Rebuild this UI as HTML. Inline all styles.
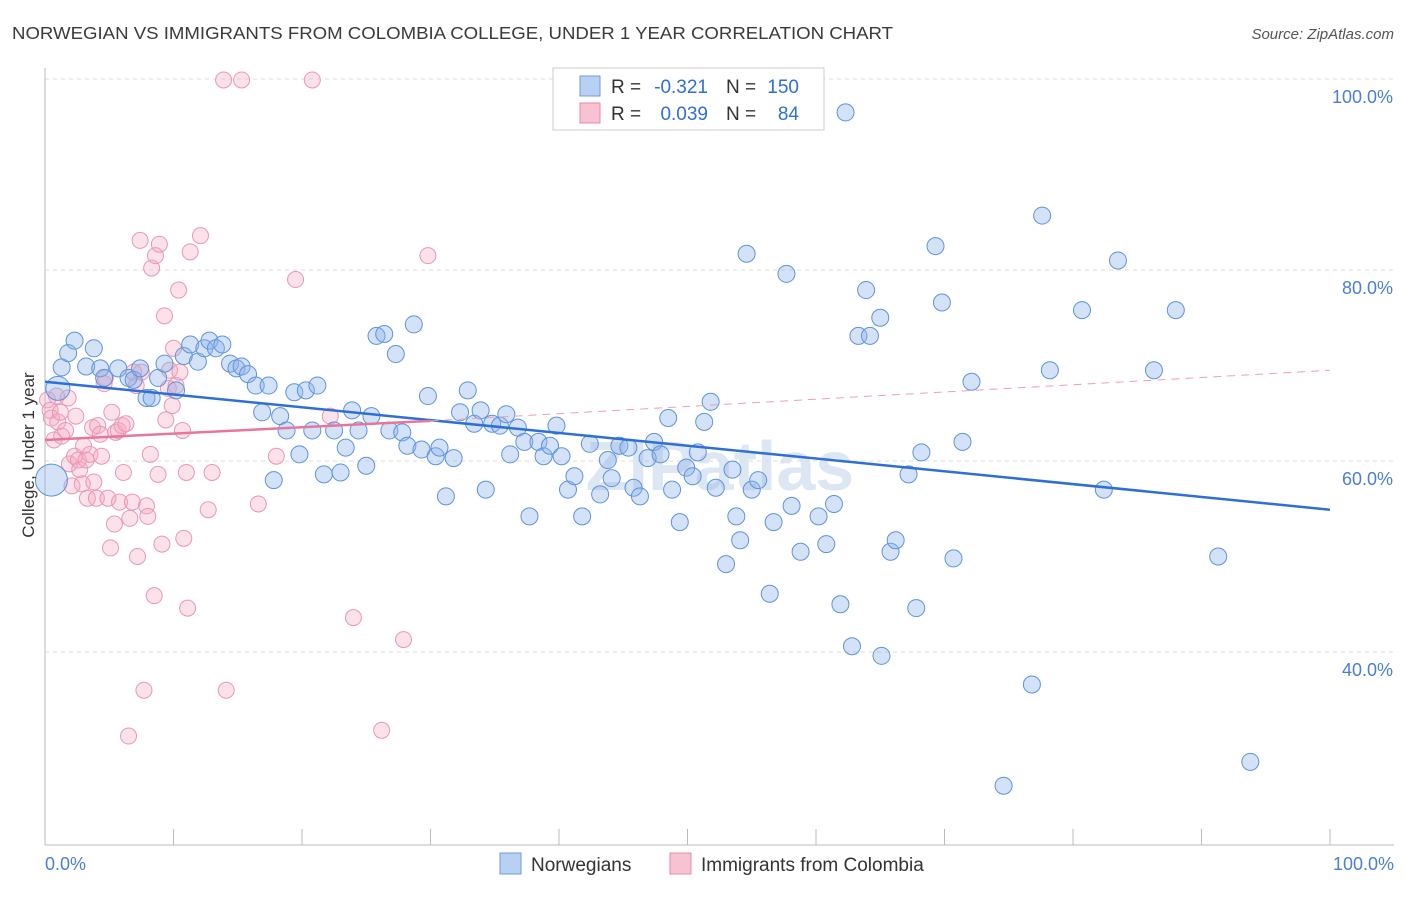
<!DOCTYPE html>
<html><head><meta charset="utf-8"><style>
body{margin:0;background:#fff;font-family:"Liberation Sans",sans-serif}
svg text{font-family:"Liberation Sans",sans-serif}
</style></head><body>
<svg id="chart" width="1406" height="892" xmlns="http://www.w3.org/2000/svg">
<text x="12" y="39" font-size="17.5" fill="#3a3a3a" textLength="881" lengthAdjust="spacingAndGlyphs">NORWEGIAN VS IMMIGRANTS FROM COLOMBIA COLLEGE, UNDER 1 YEAR CORRELATION CHART</text>
<text x="1394" y="39" font-size="15" fill="#555" font-style="italic" text-anchor="end">Source: ZipAtlas.com</text>
<text x="720" y="490" font-size="70" fill="#dde6f3" text-anchor="middle" font-weight="bold">ZIPatlas</text>
<g id="grid"></g>
<g id="pts"></g>
<g id="lines"></g>
<text transform="translate(34,455) rotate(-90)" font-size="17" fill="#333" text-anchor="middle">College, Under 1 year</text>
<g>
<rect x="553" y="68" width="271" height="62" fill="#fff" stroke="#ccc"/>
<rect x="580" y="76" width="20" height="20" fill="#b8d0f2" stroke="#6f9be0"/>
<rect x="580" y="103" width="20" height="20" fill="#f7c3d3" stroke="#e88aa8"/>
<text x="611" y="93" font-size="19" fill="#333">R =</text>
<text x="708" y="93" font-size="19" fill="#2f6fd6" text-anchor="end">-0.321</text>
<text x="726" y="93" font-size="19" fill="#333">N =</text>
<text x="799" y="93" font-size="19" fill="#2f6fd6" text-anchor="end">150</text>
<text x="611" y="120" font-size="19" fill="#333">R =</text>
<text x="708" y="120" font-size="19" fill="#2f6fd6" text-anchor="end">0.039</text>
<text x="726" y="120" font-size="19" fill="#333">N =</text>
<text x="799" y="120" font-size="19" fill="#2f6fd6" text-anchor="end">84</text>
</g>
<g>
<rect x="500" y="853" width="21" height="21" fill="#b8d0f2" stroke="#6f9be0"/>
<text x="531" y="871" font-size="19" fill="#333">Norwegians</text>
<rect x="670" y="853" width="21" height="21" fill="#f7c3d3" stroke="#e88aa8"/>
<text x="701" y="871" font-size="19" fill="#333">Immigrants from Colombia</text>
</g>
</svg>
<script>
const yTicks=[40,60,80,100];
const yTickLabels=["40.0%","60.0%","80.0%","100.0%"];
const xTickLabels=["0.0%","100.0%"];
const blueX=[0.5,1,1.3,1.8,2.3,3.2,3.8,4.3,4.6,5.7,6.5,6.9,7.4,7.9,8.3,8.8,9.3,10.2,10.8,11.3,11.9,12.4,12.8,13.3,13.8,14.4,14.9,15.3,15.8,16.4,16.9,17.4,17.8,18.3,18.8,19.4,19.8,20.3,20.8,21.2,21.7,22.5,23,23.4,23.9,24.4,25,25.4,25.8,26.4,26.8,27.3,27.8,28.2,28.7,29.3,29.8,30.4,30.7,31.2,31.8,32.3,32.9,33.4,33.9,34.3,34.8,35.4,35.9,36.2,36.8,37.3,37.7,38.4,38.8,39.3,39.8,40.2,40.7,41.2,41.8,42.4,43.2,43.8,44.1,44.7,45.4,45.8,46.3,46.9,47.4,47.9,48.5,48.8,49.4,49.9,50.4,50.8,51.3,51.8,52.2,53,53.5,53.8,54.1,54.6,55,55.5,56.4,56.7,57.7,58.1,58.8,60.2,60.8,61.4,61.9,62.3,62.8,63.9,63.3,64.2,65,65.1,65.8,66.2,67.2,67.8,68.2,69.3,69.8,70.7,71.4,72.1,74.6,76.8,77.6,78.2,80.7,82.4,83.5,86.3,88,91.3,93.8];
const blueY=[58,67.6,69.8,71.3,72.6,69.9,71.8,69.7,68.7,69.7,68.7,68.5,69.7,66.6,66.6,68.7,70.2,67.4,71,72.2,70.4,71.8,72.6,71.8,72.2,70.2,69.7,69.9,69.1,67.9,65.1,67.9,58,64.7,63.2,67.2,60.7,67.4,63.2,67.9,58.6,63.2,58.8,61.4,65.3,63.2,59.5,64.7,73.1,73.3,63.2,71.2,63,61.6,74.3,61.2,66.8,60.5,61.4,56.3,60.3,65.1,67.4,63.9,65.3,57,63.9,63.7,64.9,60.7,63.5,62,54.2,62,60.5,61.6,63.7,60.5,57,58.4,54.2,61.8,56.5,60.1,58.2,61.6,61.4,57.2,56.3,60.3,62,60.7,64.5,57,53.6,59.3,58.4,60.9,64.1,66.2,57.2,49.2,59.1,54.2,51.7,81.7,57,58,46.1,53.6,79.6,55.3,50.5,54.2,51.3,55.5,45,96.5,40.6,77.9,73.1,73.1,75,39.6,50.5,51.7,58.6,44.6,60.9,82.5,76.6,49.8,62,68.3,26,36.6,85.7,69.5,75.8,57,81,69.5,75.8,50,28.5];
const blueR=[16,12];
const pinkX=[0.2,0.4,0.5,0.7,0.9,1,1.2,1.3,1.6,1.8,1.9,2.1,2.3,2.4,2.6,2.7,2.9,3,3.2,3.3,3.5,3.7,3.8,4,4.1,4.3,4.4,4.6,4.7,4.9,5.1,5.2,5.4,5.5,5.7,5.8,6,6.1,6.3,6.5,6.6,6.8,6.9,7.1,7.2,7.4,7.5,7.7,7.9,8,8.2,8.3,8.5,8.6,8.8,8.9,9.1,9.3,9.4,9.6,9.7,9.9,10,10.2,10.4,10.5,10.7,10.8,11,11.1,11.3,12.1,12.7,13,13.9,14.1,15.3,16.6,18,19.5,20.8,22.2,24,26.2,27.9,29.8];
const pinkY=[66.4,65.3,64.5,62.2,66.8,64.1,65.1,62.6,63.2,66.6,59.7,57.4,60.5,64.7,60.1,59.1,57.6,61.6,60.1,56.1,60.7,63.5,57.8,56.1,63.7,62.8,60.5,68.1,68.7,56.1,50.9,65.1,53.4,63,63.2,55.7,63.7,58.8,63.9,31.2,54,55.7,69.3,67.9,50,83.1,69.3,36,55.3,54.2,60.7,80.2,45.9,81.5,58.6,82.7,51.3,75.2,64.3,67.6,69.5,65.8,71.8,67.9,77.9,69.3,63.2,51.9,58.8,44.6,81.9,83.6,54.9,58.8,99.9,36,99.9,55.5,60.5,79,99.9,64.7,43.6,31.8,41.3,81.5];
const blueTrend=[68.3,54.9];
const pinkTrend=[62.2,64.2,69.5];
const pinkSolidEnd=30;

const NS="http://www.w3.org/2000/svg";
const X=v=>45+v*12.85;
const Y=v=>79+(100-v)*9.55;
function mk(tag,attrs,parent){const e=document.createElementNS(NS,tag);for(const k in attrs)e.setAttribute(k,attrs[k]);parent.appendChild(e);return e;}
const grid=document.getElementById('grid');
yTicks.forEach((t,i)=>{
  const l=mk('line',{x1:45,x2:1394,y1:Y(t),y2:Y(t),stroke:'#ddd','stroke-dasharray':'4,4'},grid);
  
  
  const tx=mk('text',{x:1393,y:Y(t)+24,'font-size':18,fill:'#4a7fd4','text-anchor':'end'},grid);
  tx.textContent=yTickLabels[i];
  
  
});
const ax=mk('line',{x1:45,x2:1394,y1:845,y2:845,stroke:'#bbb'},grid);


const ay=mk('line',{x1:45,x2:45,y1:68,y2:845,stroke:'#bbb'},grid);


for(let i=0;i<=10;i++){const t=mk('line',{x1:X(i*10),x2:X(i*10),y1:829,y2:845,stroke:'#bbb'},grid);

}
[[0,'start',45],[100,'end',1394]].forEach((d,i)=>{const t=mk('text',{x:d[2],y:870,'font-size':18,fill:'#4a7fd4','text-anchor':d[1]},grid);t.textContent=xTickLabels[i];

});
const pts=document.getElementById('pts');
pinkX.forEach((x,i)=>{const c=mk('circle',{cx:X(x),cy:Y(pinkY[i]),r:8,fill:'rgba(244,170,195,0.35)',stroke:'#eb97b2','stroke-width':1},pts);

});
blueX.forEach((x,i)=>{const c=mk('circle',{cx:X(x),cy:Y(blueY[i]),r:blueR[i]||8.5,fill:'rgba(140,180,235,0.38)',stroke:'#5f93dc','stroke-width':1},pts);

});
const lines=document.getElementById('lines');
const b=mk('line',{x1:X(0),y1:Y(blueTrend[0]),x2:X(100),y2:Y(blueTrend[1]),stroke:'#2f6fd6','stroke-width':2.5},lines);


const p=mk('line',{x1:X(0),y1:Y(pinkTrend[0]),x2:X(pinkSolidEnd),y2:Y(pinkTrend[1]),stroke:'#e8769c','stroke-width':2.5},lines);


const pd=mk('line',{x1:X(pinkSolidEnd),y1:Y(pinkTrend[1]),x2:X(100),y2:Y(pinkTrend[2]),stroke:'#eba0b8','stroke-width':1,'stroke-dasharray':'8,6'},lines);


</script>
</body></html>
